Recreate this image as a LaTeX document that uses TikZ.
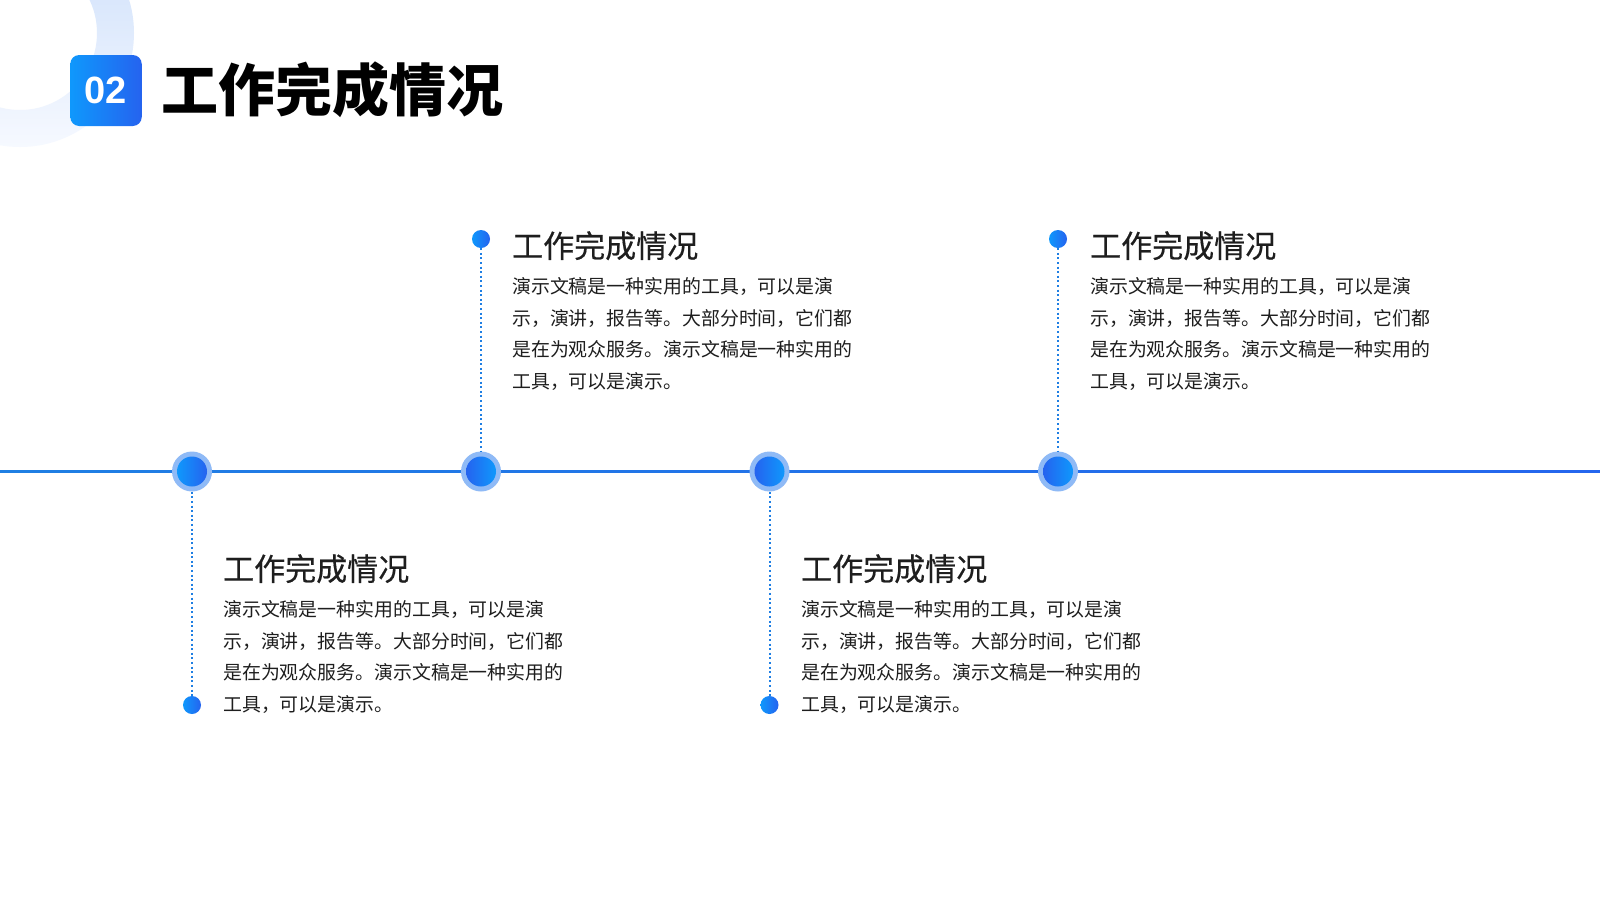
\documentclass[tikz,border=0pt]{standalone}
\usepackage{fontspec}
\newfontfamily\cjk{Noto Sans CJK SC}
\newfontfamily\cjkh[FakeBold=0.5]{Noto Sans CJK SC}
\newfontfamily\numf{Liberation Sans}
\definecolor{clight}{HTML}{0F98FC}
\definecolor{cdark}{HTML}{2563EF}
\definecolor{ringc}{HTML}{8FBAF6}
\definecolor{lineblue}{HTML}{1F7FE3}
\definecolor{txt}{HTML}{1E1E1E}
\definecolor{bgringtop}{HTML}{CADDFA}
\definecolor{bgringbot}{HTML}{F6F9FF}
\newcommand\tlblock[3]{%
  \node[headtxt] (#1h) at (#2,#3) {工作完成情况};
  \node[bodytxt] (#1a) at (#2,#3+36) {演示文稿是一种实用的工具，可以是演};
  \node[bodytxt] (#1b) at (#2,#3+67.5) {示，演讲，报告等。大部分时间，它们都};
  \node[bodytxt] (#1c) at (#2,#3+99) {是在为观众服务。演示文稿是一种实用的};
  \node[bodytxt] (#1d) at (#2,#3+130.5) {工具，可以是演示。};
}
\begin{document}
\begin{tikzpicture}[x=1pt,y=-1pt,
  headtxt/.style={anchor=base west, inner sep=0pt, text=txt, font=\cjkh\fontsize{31pt}{36pt}\selectfont},
  bodytxt/.style={anchor=base west, inner sep=0pt, text=txt, font=\cjk\fontsize{18.9pt}{22pt}\selectfont},
  outerc/.style={circle, fill=ringc, minimum size=40pt, inner sep=0pt},
  innerl/.style={circle, minimum size=30pt, inner sep=0pt, left color=clight, right color=cdark},
  innerr/.style={circle, minimum size=30pt, inner sep=0pt, left color=cdark, right color=clight},
  smalldot/.style={circle, minimum size=18pt, inner sep=0pt, left color=clight, right color=cdark},
  dotline/.style={draw=lineblue, line width=2pt, dash pattern=on 2pt off 2.6pt},
  badgebox/.style={rectangle, rounded corners=9pt, minimum width=71.5pt, minimum height=71pt, inner sep=0pt, left color=clight, right color=cdark, text=white, font=\numf\bfseries\fontsize{38pt}{40pt}\selectfont}
]
\useasboundingbox (0,0) rectangle (1600,900);
\fill[white] (0,0) rectangle (1600,900);
% background ring
\begin{scope}
  \clip (0,0) rectangle (1600,900);
  \shade[even odd rule, top color=bgringtop, bottom color=bgringbot] (20,33) circle[radius=114pt] (20,33) circle[radius=77pt];
\end{scope}
% header
\node[badgebox] (badge) at (106,90.5) {02};
\node[anchor=base west, inner sep=0pt, text=black, font=\cjk\bfseries\fontsize{57pt}{60pt}\selectfont] (title) at (161,111.5) {工作完成情况};
% timeline
\coordinate (tlL) at (0,471.5);
\coordinate (tlR) at (1600,471.5);
\shade[left color=lineblue, right color=cdark!90!lineblue] (0,470.2) rectangle (1600,472.8);
% circles
\node[outerc] (c1o) at (192,471.5) {};
\node[innerl] (c1) at (192,471.5) {};
\node[outerc] (c2o) at (481,471.5) {};
\node[innerr] (c2) at (481,471.5) {};
\node[outerc] (c3o) at (769.5,471.5) {};
\node[innerr] (c3) at (769.5,471.5) {};
\node[outerc] (c4o) at (1058,471.5) {};
\node[innerr] (c4) at (1058,471.5) {};
% small dots
\node[smalldot] (d1) at (192,705) {};
\node[smalldot] (d2) at (481,239) {};
\node[smalldot] (d3) at (769.5,705) {};
\node[smalldot] (d4) at (1058,239) {};
% dotted connectors
\draw[dotline] (c1o) -- (d1);
\draw[dotline] (d2) -- (c2o);
\draw[dotline] (c3o) -- (d3);
\draw[dotline] (d4) -- (c4o);
% text blocks
\tlblock{ta}{223}{580.5}
\tlblock{tb}{512}{257.5}
\tlblock{tc}{801}{580.5}
\tlblock{td}{1090}{257.5}
\end{tikzpicture}
\end{document}
